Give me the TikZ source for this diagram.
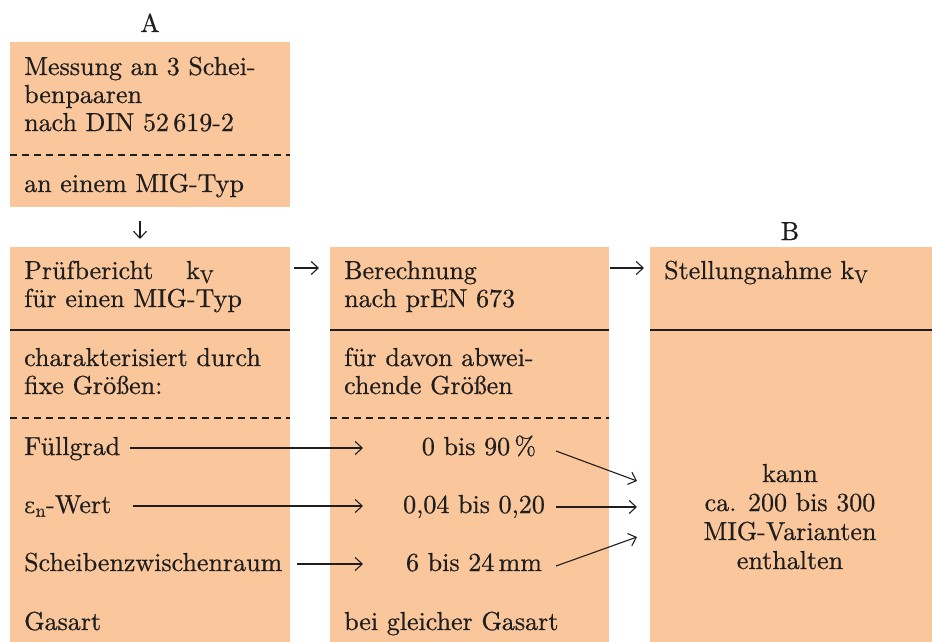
\documentclass[tikz,border=0pt]{standalone}
\usepackage{fontspec}
\setmainfont{lmroman10-regular.otf}[FakeBold=0.6]
\newfontfamily\grk{DejaVu Serif}
\usetikzlibrary{arrows.meta,calc}
\definecolor{boxfill}{RGB}{250,198,155}
\definecolor{ink}{RGB}{30,30,30}
\begin{document}
\begin{tikzpicture}[x=1pt,y=-1pt,
  box/.style={fill=boxfill, draw=none, anchor=north west, inner sep=0pt, outer sep=0pt},
  txt/.style={anchor=base west, inner sep=0pt, text=ink, font=\fontsize{26}{28}\selectfont},
  ctxt/.style={anchor=base, inner sep=0pt, text=ink, font=\fontsize{26}{28}\selectfont},
  arr/.style={-{Straight Barb[length=7pt,width=13pt]}, line width=1.1pt, draw=ink},
  sepline/.style={line width=1.3pt, draw=ink},
  dsep/.style={line width=1.1pt, draw=ink, dash pattern=on 7pt off 5pt}]
\useasboundingbox (0,0) rectangle (932,642);
% boxes
\node[box, minimum width=280pt, minimum height=165pt] (boxA) at (10,42) {};
\node[box, minimum width=280pt, minimum height=395pt] (col1) at (10,247) {};
\node[box, minimum width=279pt, minimum height=395pt] (col2) at (330,247) {};
\node[box, minimum width=282pt, minimum height=395pt] (col3) at (650,247) {};
% separators
\draw[dsep] (10,155) -- (290,155);
\draw[sepline] (10,330) -- (290,330);
\draw[sepline] (330,330) -- (609,330);
\draw[sepline] (650,330) -- (932,330);
\draw[dsep] (10,418) -- (290,418);
\draw[dsep] (330,418) -- (609,418);
% labels
\node[ctxt] (labA) at (150,32) {A};
\node[ctxt] (labB) at (790,240) {B};
% box A
\node[txt] (a1) at (24,75) {Messung an 3 Schei-};
\node[txt] (a2) at (24,103) {benpaaren};
\node[txt] (a3) at (24,131) {nach DIN 52\,619-2};
\node[txt] (a4) at (24,192) {an einem MIG-Typ};
% column 1
\node[txt] (p1) at (24,279) {Prüfbericht};
\node[txt] (p1k) at (186,279) {k\textsubscript{V}};
\node[txt] (p2) at (24,307) {für einen MIG-Typ};
\node[txt] (c1) at (24,366) {charakterisiert durch};
\node[txt] (c2) at (24,394) {fixe Größen:};
\node[txt] (fg) at (24,455) {Füllgrad};
\node[txt] (ew) at (24,513) {{\grk\fontsize{22}{28}\selectfont ε}\textsubscript{n}-Wert};
\node[txt] (sz) at (24,571) {Scheibenzwischenraum};
\node[txt] (ga) at (24,630) {Gasart};
% column 2
\node[txt] (b1) at (344,279) {Berechnung};
\node[txt] (b2) at (344,307) {nach prEN 673};
\node[txt] (d1) at (344,366) {für davon abwei-};
\node[txt] (d2) at (344,394) {chende Größen};
\node[ctxt] (v1) at (479,455) {0 bis 90\,\%};
\node[ctxt] (v2) at (474,513) {0,04 bis 0,20};
\node[ctxt] (v3) at (474,571) {6 bis 24\,mm};
\node[txt] (gg) at (344,630) {bei gleicher Gasart};
% column 3
\node[txt] (s1) at (664,279) {Stellungnahme k\textsubscript{V}};
\node[ctxt] (k1) at (790,482) {kann};
\node[ctxt] (k2) at (790,511) {ca. 200 bis 300};
\node[ctxt] (k3) at (790,540) {MIG-Varianten};
\node[ctxt] (k4) at (790,569) {enthalten};
% connector end points
\coordinate (dA) at (140,221);
\coordinate (dB) at (140,239);
\coordinate (h1s) at (294,268);
\coordinate (h1e) at (319,268);
\coordinate (h2s) at (610,268);
\coordinate (h2e) at (644,268);
\coordinate (fgS) at (130,448);
\coordinate (ewS) at (133,506);
\coordinate (szS) at (297,564);
\coordinate (t1) at (363,448);
\coordinate (t2) at (363,506);
\coordinate (t3) at (363,564);
\coordinate (o1s) at (556,451);
\coordinate (o2s) at (556,507);
\coordinate (o3s) at (556,566);
\coordinate (o1e) at (637,481);
\coordinate (o2e) at (637,507);
\coordinate (o3e) at (637,537);
% connectors
\draw[arr] (dA) -- (dB);
\draw[arr] (h1s) -- (h1e);
\draw[arr] (h2s) -- (h2e);
\draw[arr] (fgS) -- (t1);
\draw[arr] (ewS) -- (t2);
\draw[arr] (szS) -- (t3);
\draw[arr] (o1s) -- (o1e);
\draw[arr] (o2s) -- (o2e);
\draw[arr] (o3s) -- (o3e);
\end{tikzpicture}
\end{document}
